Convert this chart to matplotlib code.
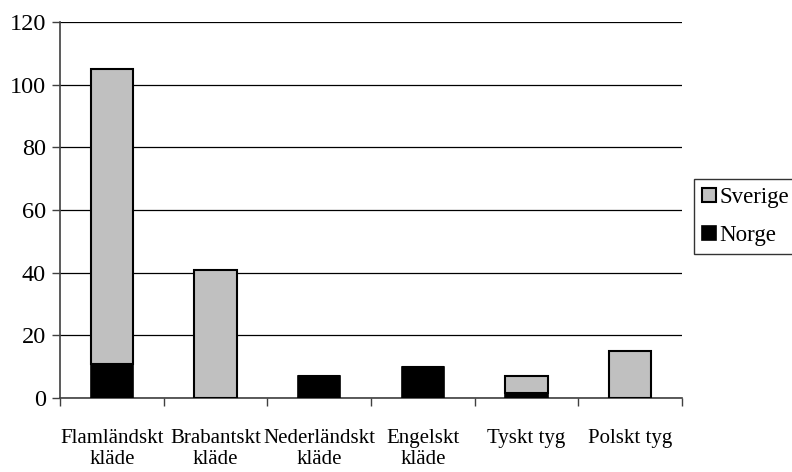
import numpy as np
import matplotlib
matplotlib.use("Agg")
import matplotlib.pyplot as plt

# Data
categories = ["Flamländskt\nkläde", "Brabantskt\nkläde", "Nederländskt\nkläde",
              "Engelskt\nkläde", "Tyskt tyg", "Polskt tyg"]
norge = [11, 0, 7, 10, 1.5, 0]
sverige = [94, 41, 0, 0, 5.5, 15]

plt.rcParams["font.family"] = ["Liberation Serif", "DejaVu Serif"]

fig = plt.figure(figsize=(7.92, 4.72), dpi=100)
ax = fig.add_axes([60 / 792, 74 / 472, 622 / 792, 376 / 472])

x = np.arange(len(categories))
w = 0.41
ax.bar(x, norge, w, color="black", edgecolor="black", linewidth=1.2,
       label="Norge", zorder=3)
ax.bar(x, sverige, w, bottom=norge, color="#c0c0c0", edgecolor="black",
       linewidth=1.5, label="Sverige", zorder=3)

ax.set_xlim(-0.5, len(categories) - 0.5)
ax.set_ylim(0, 120)
ax.set_yticks(range(0, 121, 20))
ax.yaxis.grid(True, color="black", linewidth=0.9)
ax.set_axisbelow(True)

# ticks between categories
ax.set_xticks(np.arange(-0.5, len(categories), 1.0))
ax.set_xticklabels([])
ax.set_xticks(x, minor=True)
ax.set_xticklabels(categories, minor=True, fontsize=15, linespacing=1.2)
ax.tick_params(axis="x", which="minor", length=0, pad=22)
ax.tick_params(axis="x", which="major", length=6, width=1, color="#404040")
ax.tick_params(axis="y", length=6, width=1, labelsize=17.5, color="#404040",
               pad=4)

for s in ["top", "right"]:
    ax.spines[s].set_visible(False)
ax.spines["left"].set_color("#404040")
ax.spines["left"].set_linewidth(1.2)
ax.spines["bottom"].set_color("#404040")
ax.spines["bottom"].set_linewidth(1.2)

handles, labels = ax.get_legend_handles_labels()
leg = fig.legend(handles[::-1], labels[::-1], loc="upper left",
                 bbox_to_anchor=(694 / 792, 1 - 179 / 472), fontsize=16.5,
                 frameon=True, fancybox=False, edgecolor="black",
                 handlelength=0.6, handleheight=0.6, handletextpad=0.15,
                 borderpad=0.35, labelspacing=0.75, borderaxespad=0)
leg.get_frame().set_linewidth(1)

fig.savefig("out.png", dpi=100)
